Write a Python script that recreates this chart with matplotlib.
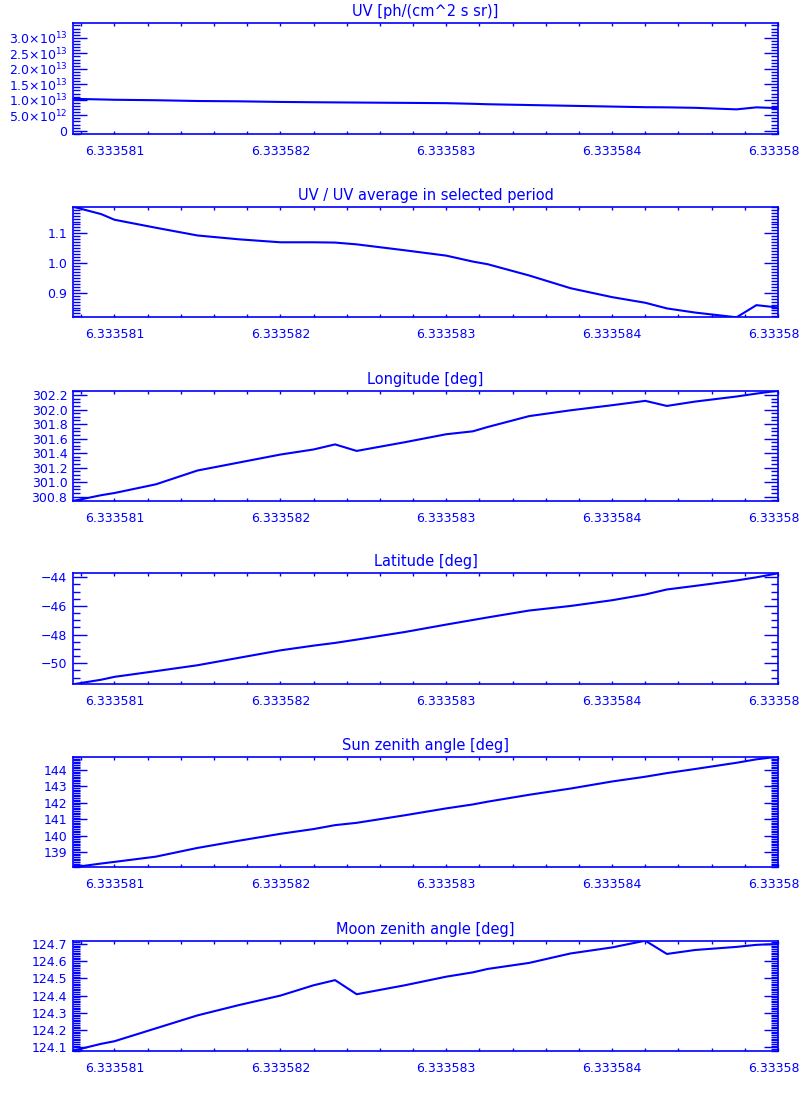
import matplotlib
matplotlib.use("Agg")
import matplotlib.pyplot as plt
from matplotlib.ticker import MultipleLocator, FuncFormatter

# --- DATA ---
time = [6.33358075, 6.33358092, 6.33358100, 6.33358125, 6.33358150, 6.33358175,
        6.33358200, 6.33358220, 6.33358233, 6.33358246, 6.33358275, 6.33358300,
        6.33358316, 6.33358325, 6.33358350, 6.33358375, 6.33358400, 6.33358420,
        6.33358433, 6.33358450, 6.33358475, 6.33358487, 6.33358500]

uv = [1.03e13, 1.01e13, 1.00e13, 9.85e12, 9.6e12, 9.5e12, 9.3e12, 9.2e12,
      9.15e12, 9.1e12, 9.0e12, 8.9e12, 8.7e12, 8.55e12, 8.3e12, 8.05e12,
      7.8e12, 7.6e12, 7.55e12, 7.4e12, 6.9e12, 7.55e12, 7.3e12]

uv_ratio = [1.190, 1.165, 1.146, 1.119, 1.093, 1.080, 1.070, 1.070, 1.069,
            1.063, 1.043, 1.025, 1.005, 0.996, 0.958, 0.915, 0.885, 0.866,
            0.847, 0.833, 0.817, 0.858, 0.850]

longitude = [300.74, 300.82, 300.85, 300.97, 301.16, 301.27, 301.38, 301.45,
             301.52, 301.43, 301.55, 301.66, 301.70, 301.76, 301.91, 301.99,
             302.06, 302.12, 302.05, 302.11, 302.18, 302.22, 302.26]

latitude = [-51.47, -51.15, -50.95, -50.55, -50.14, -49.62, -49.10, -48.77,
            -48.58, -48.35, -47.82, -47.30, -46.98, -46.80, -46.32, -46.00,
            -45.60, -45.20, -44.85, -44.60, -44.22, -44.00, -43.72]

sun_zenith = [138.07, 138.30, 138.40, 138.72, 139.25, 139.69, 140.11, 140.40,
              140.64, 140.78, 141.24, 141.66, 141.90, 142.07, 142.49, 142.87,
              143.30, 143.59, 143.81, 144.06, 144.44, 144.65, 144.81]

moon_zenith = [124.080, 124.120, 124.135, 124.210, 124.285, 124.345, 124.400,
               124.460, 124.490, 124.408, 124.460, 124.510, 124.535, 124.555,
               124.590, 124.645, 124.680, 124.719, 124.642, 124.665, 124.683,
               124.695, 124.700]

titles = ["UV [ph/(cm^2 s sr)]",
          "UV / UV average in selected period",
          "Longitude [deg]",
          "Latitude [deg]",
          "Sun zenith angle [deg]",
          "Moon zenith angle [deg]"]

series = [uv, uv_ratio, longitude, latitude, sun_zenith, moon_zenith]

BLUE = "#0000ff"


def sci_fmt(v, pos):
    if abs(v) < 1:
        return "0"
    exp = len(str(int(abs(v)))) - 1
    mant = v / 10 ** exp
    return r"%.1f$\times$10$^{%d}$" % (mant, exp)


plt.rcParams["font.family"] = ["DejaVu Sans"]
plt.rcParams["text.color"] = BLUE
plt.rcParams["axes.edgecolor"] = BLUE
plt.rcParams["xtick.color"] = BLUE
plt.rcParams["ytick.color"] = BLUE

fig = plt.figure(figsize=(8, 11), dpi=100)

# panel boxes in pixels (top, bottom)
boxes = [(23, 134), (206.7, 317.3), (390.7, 501), (573.3, 684.3),
         (756.7, 867.3), (940.7, 1050.7)]
# y-axis ticking per panel: (major, minor)
yticks = [(5e12, 1e12), (0.1, 0.01), (0.2, 0.05), (2, 0.5), (1, 0.1), (0.1, 0.01)]

for i, (top, bot) in enumerate(boxes):
    ax = fig.add_axes([73 / 800, 1 - bot / 1100, 705 / 800, (bot - top) / 1100])
    ax.plot(time, series[i], color=BLUE, lw=1.5)
    ax.set_xlim(min(time), max(time))
    if i == 0:
        ax.set_ylim(-1.06e12, 3.48e13)
        ax.yaxis.set_major_formatter(FuncFormatter(sci_fmt))
    else:
        ax.set_ylim(min(series[i]), max(series[i]))
    ax.yaxis.set_major_locator(MultipleLocator(yticks[i][0]))
    ax.yaxis.set_minor_locator(MultipleLocator(yticks[i][1]))
    ax.xaxis.set_major_locator(MultipleLocator(1e-6))
    ax.xaxis.set_minor_locator(MultipleLocator(2e-7))
    ax.xaxis.set_major_formatter(FuncFormatter(lambda v, p: "%.6f" % v))
    ax.xaxis.get_offset_text().set_visible(False)
    ax.tick_params(axis="y", which="major", direction="in", left=True, right=True,
                   length=10, width=1, labelsize=9, pad=4)
    ax.tick_params(axis="y", which="minor", direction="in", left=True, right=True,
                   length=5, width=1)
    ax.tick_params(axis="x", which="major", direction="in", top=True, bottom=True,
                   length=2.5, width=1, labelsize=9, pad=8)
    ax.tick_params(axis="x", which="minor", direction="in", top=True, bottom=True,
                   length=2, width=1)
    for s in ax.spines.values():
        s.set_linewidth(1.2)
    ax.set_title(titles[i], fontsize=10.5, color=BLUE, pad=5)

fig.savefig("out.png", dpi=100, facecolor="white")
